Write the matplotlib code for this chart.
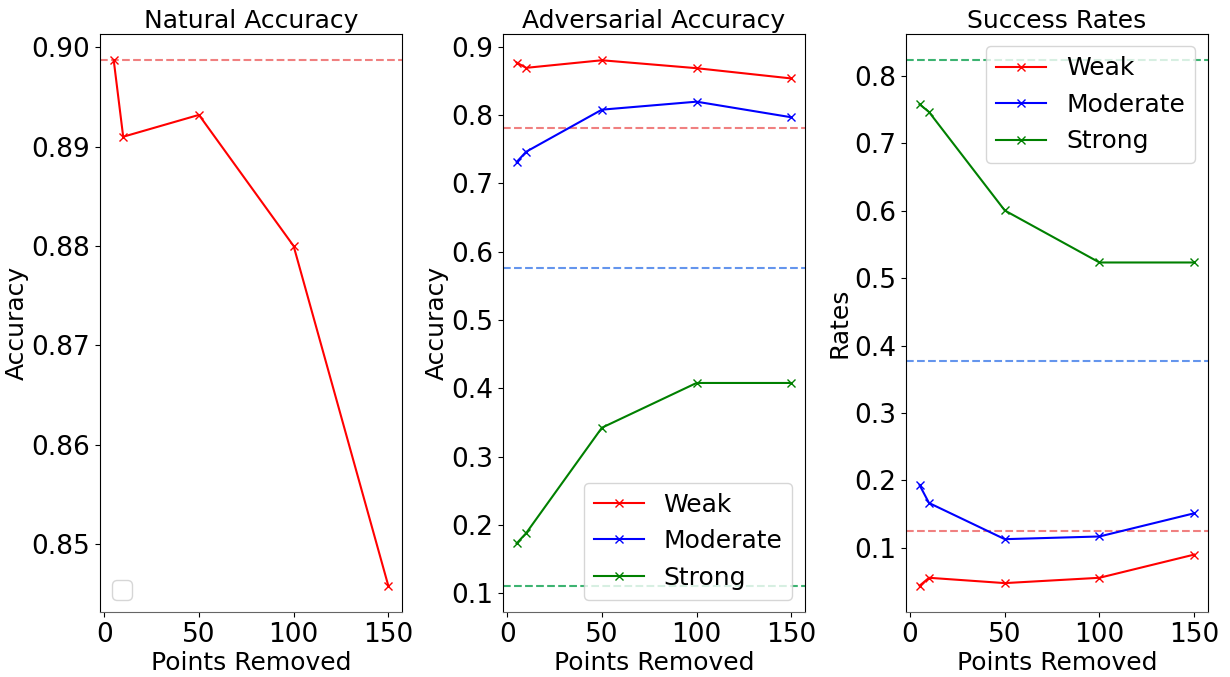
import matplotlib
matplotlib.use("Agg")
import matplotlib.pyplot as plt

points_removed = [5, 10, 50, 100, 150]

natural_acc = [0.8987, 0.8910, 0.8932, 0.8800, 0.8458]
natural_base = 0.8987

adv_weak = [0.8767, 0.8689, 0.8800, 0.8684, 0.8534]
adv_moderate = [0.7311, 0.7461, 0.8077, 0.8194, 0.7966]
adv_strong = [0.1730, 0.1880, 0.3423, 0.4078, 0.4078]
adv_base = [0.7811, 0.5760, 0.1111]

rate_weak = [0.0435, 0.0553, 0.0474, 0.0553, 0.0897]
rate_moderate = [0.1929, 0.1663, 0.1126, 0.1166, 0.1510]
rate_strong = [0.7580, 0.7465, 0.6004, 0.5232, 0.5232]
rate_base = [0.1244, 0.3770, 0.8233]

labels = ["Weak", "Moderate", "Strong"]
colors = ["red", "blue", "green"]
base_colors = ["lightcoral", "cornflowerblue", "mediumseagreen"]

plt.rcParams["font.size"] = 18
plt.rcParams["xtick.labelsize"] = 19
plt.rcParams["ytick.labelsize"] = 19
plt.rcParams["axes.titlesize"] = 18
plt.rcParams["axes.titlepad"] = 4
plt.rcParams["axes.labelpad"] = 2
plt.rcParams["legend.fontsize"] = 18

fig, axes = plt.subplots(1, 3, figsize = (12.3, 6.77), dpi = 100)

# natural accuracy
ax = axes[0]
ax.axhline(natural_base, color = base_colors[0], linestyle = "--")
ax.plot(points_removed, natural_acc, color = "red", marker = "x")
ax.legend(handles = [], loc = "lower left")
ax.set_title("Natural Accuracy")
ax.set_xlabel("Points Removed")
ax.set_ylabel("Accuracy")

# adversarial accuracy
ax = axes[1]
for b, c in zip(adv_base, base_colors):
    ax.axhline(b, color = c, linestyle = "--")
for y, lab, c in zip([adv_weak, adv_moderate, adv_strong], labels, colors):
    ax.plot(points_removed, y, color = c, marker = "x", label = lab)
ax.legend(loc = "lower right")
ax.set_title("Adversarial Accuracy")
ax.set_xlabel("Points Removed")
ax.set_ylabel("Accuracy")

# success rates
ax = axes[2]
for b, c in zip(rate_base, base_colors):
    ax.axhline(b, color = c, linestyle = "--")
for y, lab, c in zip([rate_weak, rate_moderate, rate_strong], labels, colors):
    ax.plot(points_removed, y, color = c, marker = "x", label = lab)
ax.legend(loc = "upper right")
ax.set_title("Success Rates")
ax.set_xlabel("Points Removed")
ax.set_ylabel("Rates")

for ax in axes:
    ax.set_xticks([0, 50, 100, 150])
    ax.spines["bottom"].set_color("0.4")

fig.subplots_adjust(left = 0.0813, right = 0.982, top = 0.9498, bottom = 0.096, wspace = 0.334)
fig.savefig("out.png")
